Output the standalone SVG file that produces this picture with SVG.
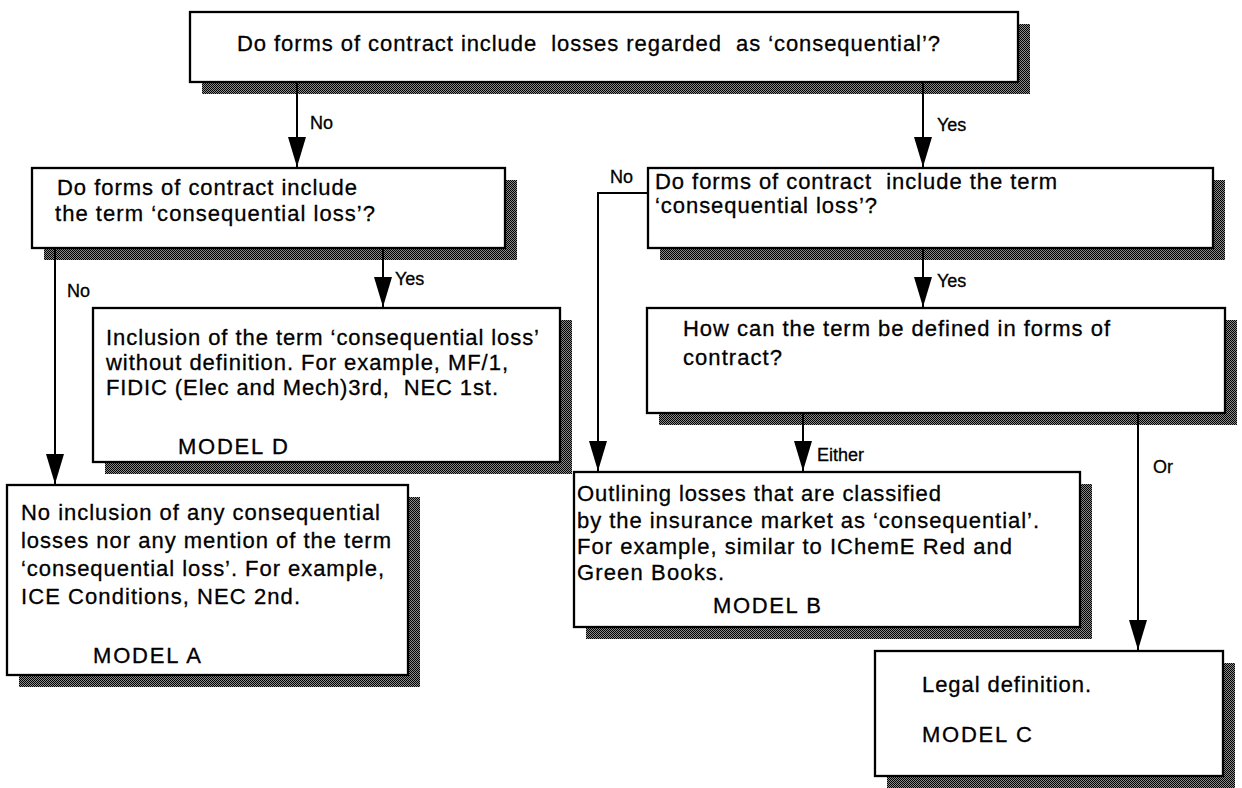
<svg xmlns="http://www.w3.org/2000/svg" width="1242" height="788" viewBox="0 0 1242 788" xml:space="preserve">
<defs>
<pattern id="dots" width="2" height="2" patternUnits="userSpaceOnUse"><rect width="2" height="2" fill="#8a8a8a"/><rect width="1" height="1" fill="#000"/><rect x="1" y="1" width="1" height="1" fill="#000"/></pattern>
<marker id="ah" markerUnits="userSpaceOnUse" markerWidth="30" markerHeight="20" refX="30" refY="10" orient="auto"><path d="M0,1 L30,10 L0,19 z" fill="#000"/></marker>
<style>
.box{fill:#fff;stroke:#000;stroke-width:2.3}
.sh{fill:url(#dots)}
.t{font-family:"Liberation Sans",Arial,Helvetica,sans-serif;font-size:22px;fill:#000;stroke:#000;stroke-width:0.3;white-space:pre}
.l{font-family:"Liberation Sans",Arial,Helvetica,sans-serif;font-size:18px;fill:#000;stroke:#000;stroke-width:0.3}
.c{fill:none;stroke:#000;stroke-width:2}
</style>
</defs>
<rect width="1242" height="788" fill="#fff"/>

<g id="q1">
<rect class="sh" x="202" y="24" width="828" height="70"/>
<rect class="box" x="190" y="12" width="828" height="70"/>
<text class="t" x="237" y="51" textLength="703">Do forms of contract include  losses regarded  as ‘consequential’?</text>
</g>

<g id="q2-left">
<rect class="sh" x="44" y="180" width="473" height="80"/>
<rect class="box" x="32" y="168" width="473" height="80"/>
<text class="t" x="57" y="195" textLength="300">Do forms of contract include</text>
<text class="t" x="55" y="221" textLength="320">the term ‘consequential loss’?</text>
</g>

<g id="q2-right">
<rect class="sh" x="660" y="180" width="565" height="80"/>
<rect class="box" x="648" y="168" width="565" height="80"/>
<text class="t" x="655" y="189" textLength="402">Do forms of contract  include the term</text>
<text class="t" x="655" y="213" textLength="222">‘consequential loss’?</text>
</g>

<g id="q3">
<rect class="sh" x="659" y="320" width="578" height="105"/>
<rect class="box" x="647" y="308" width="578" height="105"/>
<text class="t" x="683" y="336" textLength="427">How can the term be defined in forms of</text>
<text class="t" x="683" y="365" textLength="99">contract?</text>
</g>

<g id="model-d">
<rect class="sh" x="105" y="320" width="467" height="154"/>
<rect class="box" x="93" y="308" width="467" height="154"/>
<text class="t" x="106" y="345" textLength="433">Inclusion of the term ‘consequential loss’</text>
<text class="t" x="106" y="370" textLength="402">without definition. For example, MF/1,</text>
<text class="t" x="106" y="395" textLength="392">FIDIC (Elec and Mech)3rd,  NEC 1st.</text>
<text class="t" x="178" y="454" textLength="110">MODEL D</text>
</g>

<g id="model-a">
<rect class="sh" x="19" y="497" width="401" height="190"/>
<rect class="box" x="7" y="485" width="401" height="190"/>
<text class="t" x="21" y="520" textLength="359">No inclusion of any consequential</text>
<text class="t" x="21" y="548" textLength="370">losses nor any mention of the term</text>
<text class="t" x="21" y="576" textLength="363">‘consequential loss’. For example,</text>
<text class="t" x="21" y="604" textLength="279">ICE Conditions, NEC 2nd.</text>
<text class="t" x="93" y="663" textLength="108">MODEL A</text>
</g>

<g id="model-b">
<rect class="sh" x="586" y="484" width="506" height="155"/>
<rect class="box" x="574" y="472" width="506" height="155"/>
<text class="t" x="577" y="501" textLength="364">Outlining losses that are classified</text>
<text class="t" x="577" y="528" textLength="462">by the insurance market as ‘consequential’.</text>
<text class="t" x="577" y="554" textLength="435">For example, similar to IChemE Red and</text>
<text class="t" x="577" y="580" textLength="147">Green Books.</text>
<text class="t" x="713" y="613" textLength="108">MODEL B</text>
</g>

<g id="model-c">
<rect class="sh" x="887" y="663" width="348" height="125"/>
<rect class="box" x="875" y="651" width="348" height="125"/>
<text class="t" x="922" y="692" textLength="169">Legal definition.</text>
<text class="t" x="922" y="742" textLength="110">MODEL C</text>
</g>

<g id="connectors">
<path class="c" d="M297,83 V167" marker-end="url(#ah)"/>
<path class="c" d="M923,83 V167" marker-end="url(#ah)"/>
<path class="c" d="M383,249 V307" marker-end="url(#ah)"/>
<path class="c" d="M55,249 V484" marker-end="url(#ah)"/>
<path class="c" d="M647,193 H598 V471" marker-end="url(#ah)"/>
<path class="c" d="M923,249 V307" marker-end="url(#ah)"/>
<path class="c" d="M803,414 V471" marker-end="url(#ah)"/>
<path class="c" d="M1138,414 V650" marker-end="url(#ah)"/>
<text class="l" x="310" y="129">No</text>
<text class="l" x="937" y="131">Yes</text>
<text class="l" x="395" y="285">Yes</text>
<text class="l" x="67" y="297">No</text>
<text class="l" x="610" y="183">No</text>
<text class="l" x="937" y="287">Yes</text>
<text class="l" x="817" y="461">Either</text>
<text class="l" x="1153" y="473">Or</text>
</g>
</svg>
